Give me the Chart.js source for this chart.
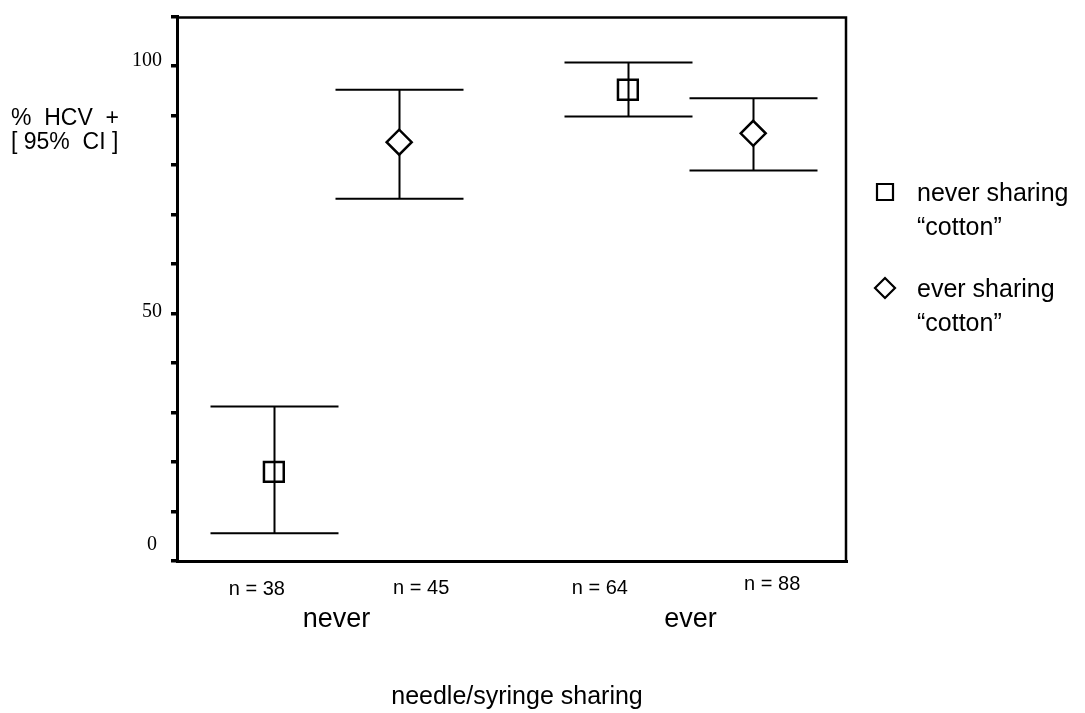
<!DOCTYPE html>
<html>
<head>
<meta charset="utf-8">
<script src="https://cdn.jsdelivr.net/npm/chart.js@4.4.1/dist/chart.umd.min.js"></script>
<style>
  html, body { margin: 0; padding: 0; background: #fff; }
  #wrap { position: relative; width: 1085px; height: 713px; }
</style>
</head>
<body>
<div id="wrap"><canvas id="hcv"></canvas></div>
<script>
// ── data ──
var groups      = ['never', 'ever'];              // needle/syringe sharing
var nLabels     = ['n = 38', 'n = 45', 'n = 64', 'n = 88'];
var neverMean   = [18.0, 95.2];                   // never sharing "cotton"
var neverLo     = [5.6, 89.8];
var neverHi     = [31.2, 100.7];
var everMean    = [84.6, 86.4];                   // ever sharing "cotton"
var everLo      = [73.2, 78.9];
var everHi      = [95.2, 93.5];
var yTickLabels = [0, 50, 100];

// ── style ──
var SANS  = '"Liberation Sans", Arial, sans-serif';
var SERIF = '"Liberation Serif", "Times New Roman", serif';
var DODGE = 0.177;   // offset of each series inside a group (x units)
var CAP   = 64;      // half width of CI caps, px
var nDx   = [-17, 22, -28, 19];   // n-label nudges, px
var nDy   = [34, 33, 33, 29];
var tickNudge = { 0: [-5, -11], 50: [0, 3], 100: [0, 0] };

function pts(mean, lo, hi, off) {
  return mean.map(function(m, i) { return { x: i + off, y: m, lo: lo[i], hi: hi[i] }; });
}

var errorBars = {
  id: 'errorBars',
  beforeDatasetsDraw: function(chart) {
    var ctx = chart.ctx, xs = chart.scales.x, ys = chart.scales.y;
    ctx.save();
    ctx.strokeStyle = '#000'; ctx.lineWidth = 2;
    chart.data.datasets.forEach(function(ds) {
      ds.data.forEach(function(p) {
        var px = Math.round(xs.getPixelForValue(p.x)) + 0.5;
        var yh = ys.getPixelForValue(p.hi), yl = ys.getPixelForValue(p.lo);
        ctx.beginPath();
        ctx.moveTo(px, yh); ctx.lineTo(px, yl);
        ctx.moveTo(px - CAP, yh); ctx.lineTo(px + CAP, yh);
        ctx.moveTo(px - CAP, yl); ctx.lineTo(px + CAP, yl);
        ctx.stroke();
      });
    });
    ctx.restore();
  }
};

function marker(ctx, style, x, y) {
  ctx.beginPath();
  if (style === 'rect') ctx.rect(x - 8, y - 8, 16, 16);
  else { ctx.moveTo(x - 10, y); ctx.lineTo(x, y - 10); ctx.lineTo(x + 10, y); ctx.lineTo(x, y + 10); ctx.closePath(); }
  ctx.stroke();
}

var decor = {
  id: 'decor',
  afterDraw: function(chart) {
    var ctx = chart.ctx, a = chart.chartArea, xs = chart.scales.x, ys = chart.scales.y;
    ctx.save();
    ctx.fillStyle = '#000'; ctx.strokeStyle = '#000';

    // top / right frame
    ctx.lineWidth = 2.5;
    ctx.beginPath();
    ctx.moveTo(a.left, a.top + 1); ctx.lineTo(a.right - 1, a.top + 1); ctx.lineTo(a.right - 1, a.bottom);
    ctx.stroke();

    // y tick labels
    ctx.font = '20px ' + SERIF; ctx.textAlign = 'right'; ctx.textBaseline = 'alphabetic';
    yTickLabels.forEach(function(v) {
      var n = tickNudge[v] || [0, 0];
      ctx.fillText(String(v), 162 + n[0], ys.getPixelForValue(v) + n[1]);
    });

    // y title
    ctx.font = '23px ' + SANS; ctx.textAlign = 'left';
    ctx.fillText('%  HCV  +', 11, 125);
    ctx.fillText('[ 95%  CI ]', 11, 149);

    // n labels and group labels
    ctx.textAlign = 'center';
    ctx.font = '20px ' + SANS;
    var k = 0;
    chart.data.datasets[0].data.forEach(function(p, i) {
      [p, chart.data.datasets[1].data[i]].forEach(function(q) {
        ctx.fillText(nLabels[k], xs.getPixelForValue(q.x) + nDx[k], a.bottom + nDy[k]);
        k++;
      });
    });
    ctx.font = '27px ' + SANS;
    groups.forEach(function(g, i) {
      ctx.fillText(g, xs.getPixelForValue(i), a.bottom + 66);
    });
    ctx.font = '25px ' + SANS;
    ctx.fillText('needle/syringe sharing', (a.left + a.right) / 2 + 5, 704);

    // legend
    ctx.textAlign = 'left'; ctx.font = '25px ' + SANS; ctx.lineWidth = 2.2;
    chart.data.datasets.forEach(function(ds, i) {
      var y0 = 192 + 96 * i;
      marker(ctx, ds.pointStyle, 885, y0);
      ds.label.forEach(function(line, j) {
        ctx.fillText(line, 917, y0 + 9 + 34 * j);
      });
    });
    ctx.restore();
  }
};

new Chart(document.getElementById('hcv').getContext('2d'), {
  type: 'scatter',
  data: {
    datasets: [
      { label: ['never sharing', '\u201Ccotton\u201D'],
        data: pts(neverMean, neverLo, neverHi, -DODGE),
        pointStyle: 'rect', pointRadius: 14, borderWidth: 2.5,
        borderColor: '#000', backgroundColor: 'rgba(0,0,0,0)' },
      { label: ['ever sharing', '\u201Ccotton\u201D'],
        data: pts(everMean, everLo, everHi, DODGE),
        pointStyle: 'rectRot', pointRadius: 12.5, borderWidth: 2.5,
        borderColor: '#000', backgroundColor: '#fff' }
    ]
  },
  options: {
    responsive: true, maintainAspectRatio: false, animation: false,
    layout: { padding: { left: 0, top: 15, right: 238, bottom: 0 } },
    plugins: { legend: { display: false }, tooltip: { enabled: false } },
    scales: {
      x: {
        type: 'linear', min: -0.4506, max: 1.442,
        grid: { display: false },
        ticks: { display: false },
        border: { display: true, color: '#000', width: 3 },
        afterFit: function(s) { s.height = 152; }
      },
      y: {
        type: 'linear', min: 0, max: 110,
        ticks: { display: false, stepSize: 10 },
        grid: { drawOnChartArea: false, drawTicks: true, tickLength: 6, tickWidth: 3.5,
                tickColor: '#000', lineWidth: 3.5, color: '#000' },
        border: { display: true, color: '#000', width: 3 },
        afterFit: function(s) { s.width = 177; }
      }
    }
  },
  plugins: [errorBars, decor]
});
</script>
</body>
</html>
